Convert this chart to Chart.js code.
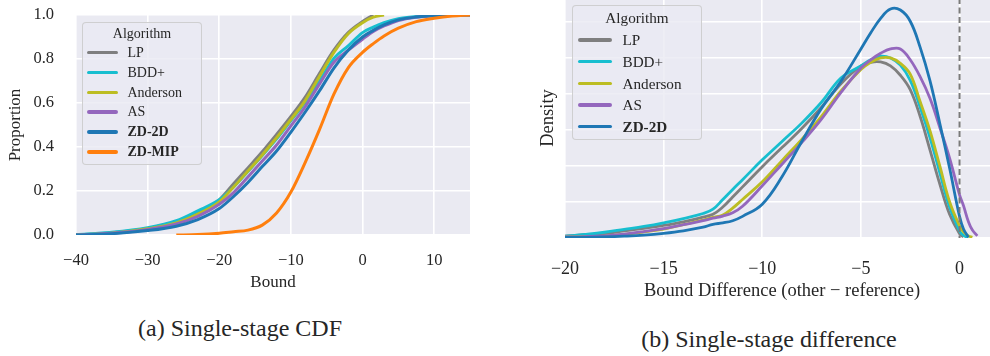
<!DOCTYPE html>
<html lang="en">
<head>
<meta charset="UTF-8">
<title>Single-stage CDF and difference</title>
<script src="https://cdn.jsdelivr.net/npm/chart.js"></script>
<style>
    body {
        margin: 0;
        width: 990px;
        height: 356px;
        overflow: hidden;
        position: relative;
        background: #fff;
        font-family: "Liberation Serif", "Times New Roman", serif;
        color: #262626;
    }
    .panel { position: absolute; }
    .panel canvas { display: block; }
    #cdfBox { left: 0; top: 0; width: 490px; height: 300px; }
    #diffBox { left: 495px; top: -10px; width: 520px; height: 330px; }
    .legend {
        position: absolute;
        background: rgba(234, 234, 242, 0.8);
        border: 1.5px solid rgba(204, 204, 204, 0.9);
        border-radius: 4px;
        box-sizing: border-box;
    }
    .legend .title { position: absolute; left: 0; right: 0; text-align: center; }
    .legend .swatch { position: absolute; height: 3.5px; border-radius: 2px; }
    .legend .lbl { position: absolute; white-space: nowrap; }
    .caption {
        position: absolute;
        font-size: 24px;
        line-height: 24px;
        white-space: nowrap;
        transform: translateX(-50%);
    }
</style>
</head>
<body>
    <div class="panel" id="cdfBox"><canvas id="cdfChart" width="490" height="300"></canvas></div>
    <div class="panel" id="diffBox"><canvas id="diffChart" width="520" height="330"></canvas></div>
    <div class="legend" id="cdfLegend" style="left:82px; top:22px; width:120px; height:143px;"></div>
    <div class="legend" id="diffLegend" style="left:572px; top:5px; width:130px; height:135px;"></div>
    <div class="caption" style="left:240px; top:316px;">(a) Single-stage CDF</div>
    <div class="caption" style="left:769px; top:327px;">(b) Single-stage difference</div>

<script>
    // algorithms, colours and which names are bold in the legend
    const algorithms = ['LP', 'BDD+', 'Anderson', 'AS', 'ZD-2D', 'ZD-MIP'];
    const colors = ['#7f7f7f', '#17becf', '#bcbd22', '#9467bd', '#1f77b4', '#ff7f0e'];
    const boldNames = ['ZD-2D', 'ZD-MIP'];

    // (a) empirical CDF of the bound
    const cdfX = [-40, -35, -30, -26, -23, -20, -18, -16, -14, -12, -10, -8, -6, -4, -2, 0, 1.5, 3, 5, 7.5, 10, 12.5, 15];
    const lpCdf = [0, 0.01, 0.03, 0.06, 0.10, 0.16, 0.233, 0.305, 0.378, 0.457, 0.539, 0.627, 0.735, 0.84, 0.92, 0.97, 1.0, null, null, null, null, null, null];
    const bddCdf = [0.002, 0.012, 0.033, 0.065, 0.11, 0.16, 0.218, 0.289, 0.361, 0.437, 0.52, 0.603, 0.70, 0.803, 0.86, 0.92, 0.945, 0.965, 0.983, 0.993, 0.998, 1.0, 1.0];
    const andersonCdf = [0, 0.008, 0.028, 0.055, 0.095, 0.15, 0.218, 0.291, 0.364, 0.442, 0.525, 0.611, 0.722, 0.83, 0.915, 0.965, 0.99, 1.0, null, null, null, null, null];
    const asCdf = [0, 0.008, 0.025, 0.05, 0.085, 0.14, 0.193, 0.264, 0.336, 0.409, 0.496, 0.583, 0.687, 0.785, 0.84, 0.89, 0.925, 0.95, 0.975, 0.99, 0.997, 0.999, 1.0];
    const zd2dCdf = [0, 0.006, 0.02, 0.04, 0.07, 0.12, 0.175, 0.239, 0.311, 0.382, 0.468, 0.559, 0.656, 0.759, 0.84, 0.90, 0.93, 0.955, 0.978, 0.991, 0.997, 0.999, 1.0];
    const mipCdf = [null, null, null, 0, 0.002, 0.008, 0.015, 0.022, 0.045, 0.10, 0.195, 0.33, 0.48, 0.64, 0.76, 0.83, 0.87, 0.905, 0.94, 0.97, 0.985, 0.995, 1.0];
    const cdfTicksX = [-40, -30, -20, -10, 0, 10];

    // (b) density of bound difference (other - reference)
    const kdeX = [-20, -19, -18, -17, -16, -15, -14, -13, -12.5, -12, -11.5, -11, -10, -9, -8, -7, -6, -5, -4.5, -4, -3.5, -3, -2.5, -2, -1.5, -1, -0.5, 0, 0.2, 0.45, 0.65, 0.9];
    const lpKde = [0.001, 0.0018, 0.0024, 0.004, 0.0054, 0.007, 0.009, 0.0116, 0.0132, 0.0172, 0.0228, 0.0284, 0.0396, 0.0502, 0.0608, 0.0726, 0.0858, 0.0956, 0.0976, 0.0978, 0.0956, 0.0904, 0.0824, 0.0676, 0.049, 0.03, 0.013, 0.0024, 0.0006, null, null, null];
    const bddKde = [0.001, 0.002, 0.0032, 0.0048, 0.0064, 0.0084, 0.0108, 0.0136, 0.016, 0.0214, 0.027, 0.0324, 0.0434, 0.0536, 0.0638, 0.0754, 0.089, 0.0956, 0.099, 0.101, 0.1, 0.096, 0.0876, 0.0728, 0.0558, 0.0362, 0.017, 0.004, 0.0014, 0.0002, null, null];
    const andersonKde = [0.0006, 0.0006, 0.001, 0.002, 0.0034, 0.005, 0.0074, 0.01, 0.0114, 0.0128, 0.0166, 0.0214, 0.0312, 0.043, 0.0548, 0.0676, 0.0818, 0.0936, 0.0976, 0.1, 0.1, 0.097, 0.091, 0.0758, 0.0596, 0.04, 0.02, 0.0068, 0.0034, 0.0012, 0.0004, null];
    const asKde = [0.0006, 0.0008, 0.0012, 0.0022, 0.0036, 0.0052, 0.0074, 0.0096, 0.011, 0.0122, 0.014, 0.0176, 0.029, 0.041, 0.053, 0.066, 0.081, 0.0944, 0.099, 0.1026, 0.105, 0.105, 0.099, 0.0896, 0.0776, 0.0614, 0.0442, 0.024, 0.018, 0.009, 0.0044, 0.0012];
    const zd2dKde = [0.0004, 0.0004, 0.0006, 0.001, 0.0016, 0.0026, 0.004, 0.006, 0.0076, 0.0084, 0.0096, 0.012, 0.0188, 0.034, 0.0536, 0.072, 0.0872, 0.105, 0.114, 0.122, 0.1272, 0.1266, 0.1204, 0.106, 0.0874, 0.0636, 0.0386, 0.012, 0.005, 0.0004, null, null];
    const referenceX = 0;

    const gridColor = '#ffffff';
    const textColor = '#262626';
    Chart.defaults.font.family = '"Liberation Serif", "Times New Roman", serif';
    Chart.defaults.color = textColor;

    // grey panel behind the plot area (seaborn darkgrid)
    const panelBg = {
        id: 'panelBg',
        beforeDraw(chart) {
            const a = chart.chartArea;
            const c = chart.ctx;
            c.save();
            c.fillStyle = '#eaeaf2';
            c.fillRect(a.left, a.top, a.right - a.left, a.bottom - a.top);
            c.restore();
        }
    };

    // dashed reference line at x = 0
    const refLine = {
        id: 'refLine',
        afterDatasetsDraw(chart) {
            const xs = chart.scales.x;
            const a = chart.chartArea;
            const px = xs.getPixelForValue(referenceX);
            const c = chart.ctx;
            c.save();
            c.strokeStyle = '#7a7a7a';
            c.lineWidth = 2;
            c.setLineDash([6, 3.5]);
            c.beginPath();
            c.moveTo(px, a.top);
            c.lineTo(px, a.bottom);
            c.stroke();
            c.restore();
        }
    };

    const minus = v => String(v).replace('-', '\u2212');

    // the tick padding should not push the plot area in
    const noPad = s => {
        s.paddingTop = 0; s.paddingBottom = 0;
        s.paddingLeft = 0; s.paddingRight = 0;
    };

    function makeSets(xs, series, width, smooth) {
        return series.map((ys, i) => ({
            label: algorithms[i],
            data: xs.map((x, j) => ({ x: x, y: ys[j] })),
            borderColor: colors[i],
            borderWidth: width,
            pointRadius: 0,
            fill: false,
            cubicInterpolationMode: smooth ? 'default' : 'monotone',
            tension: 0.4,
            order: series.length - i
        }));
    }

    new Chart(document.getElementById('cdfChart'), {
        type: 'line',
        data: { datasets: makeSets(cdfX, [lpCdf, bddCdf, andersonCdf, asCdf, zd2dCdf, mipCdf], 3, false) },
        options: {
            responsive: false,
            animation: false,
            events: [],
            layout: { padding: { top: 15, right: 20, left: 0, bottom: 0 } },
            plugins: { legend: { display: false }, tooltip: { enabled: false } },
            scales: {
                x: {
                    type: 'linear', min: -40, max: 15,
                    afterFit: s => { s.height = 65; noPad(s); },
                    afterBuildTicks: s => { s.ticks = cdfTicksX.map(v => ({ value: v })); },
                    ticks: { padding: 16, font: { size: 16.5 }, callback: minus, maxRotation: 0 },
                    grid: { color: gridColor, lineWidth: 1.6, drawTicks: false },
                    border: { display: false },
                    title: { display: true, text: 'Bound', font: { size: 17 }, padding: { bottom: 7 } }
                },
                y: {
                    min: 0, max: 1,
                    afterFit: s => { s.width = 76; noPad(s); },
                    ticks: { stepSize: 0.2, padding: 22, font: { size: 16.5 }, callback: v => v.toFixed(1) },
                    grid: { color: gridColor, lineWidth: 1.6, drawTicks: false },
                    border: { display: false },
                    title: { display: true, text: 'Proportion', font: { size: 17 }, padding: { top: 5 } }
                }
            }
        },
        plugins: [panelBg]
    });

    new Chart(document.getElementById('diffChart'), {
        type: 'line',
        data: { datasets: makeSets(kdeX, [lpKde, bddKde, andersonKde, asKde, zd2dKde], 2.8, true) },
        options: {
            responsive: false,
            animation: false,
            events: [],
            layout: { padding: { top: 8, right: 16, left: 0, bottom: 0 } },
            plugins: { legend: { display: false }, tooltip: { enabled: false } },
            scales: {
                x: {
                    type: 'linear', min: -20, max: 2,
                    afterFit: s => { s.height = 82; noPad(s); },
                    ticks: { stepSize: 5, includeBounds: false, padding: 20, font: { size: 18 }, callback: minus, maxRotation: 0 },
                    grid: { color: gridColor, lineWidth: 1.6, drawTicks: false },
                    border: { display: false },
                    title: { display: true, text: 'Bound Difference (other \u2212 reference)', font: { size: 18.5 }, padding: { bottom: 18 } }
                },
                y: {
                    min: 0, max: 0.1333,
                    afterFit: s => { s.width = 70; noPad(s); },
                    ticks: { stepSize: 0.02, display: false },
                    grid: { color: gridColor, lineWidth: 1.6, drawTicks: false },
                    border: { display: false },
                    title: { display: true, text: 'Density', font: { size: 18.5 }, padding: { top: 42 } }
                }
            }
        },
        plugins: [panelBg, refLine]
    });

    // legends drawn as html so two of the names can be bold
    function buildLegend(id, names, fontSize, titleY, firstRow, rowStep, lineX, lineW, textX) {
        const box = document.getElementById(id);
        const top = box.offsetTop;
        const left = box.offsetLeft;
        let html = `<div class="title" style="top:${titleY - top - 10}px; line-height:20px; font-size:${fontSize}px;">Algorithm</div>`;
        names.forEach((name, i) => {
            const cy = firstRow + i * rowStep - top;
            const weight = boldNames.includes(name) ? 'bold' : 'normal';
            html += `<div class="swatch" style="left:${lineX - left}px; width:${lineW}px; top:${cy - 2}px; background:${colors[i]};"></div>`;
            html += `<div class="lbl" style="left:${textX - left}px; top:${cy - 10}px; line-height:20px; font-size:${fontSize}px; font-weight:${weight};">${name}</div>`;
        });
        box.innerHTML = html;
    }
    buildLegend('cdfLegend', algorithms, 14, 33, 51.7, 19.9, 86, 31, 126.5);
    buildLegend('diffLegend', algorithms.slice(0, 5), 15.2, 16.7, 39.3, 21.6, 576.5, 34, 621.5);
</script>
</body>
</html>
